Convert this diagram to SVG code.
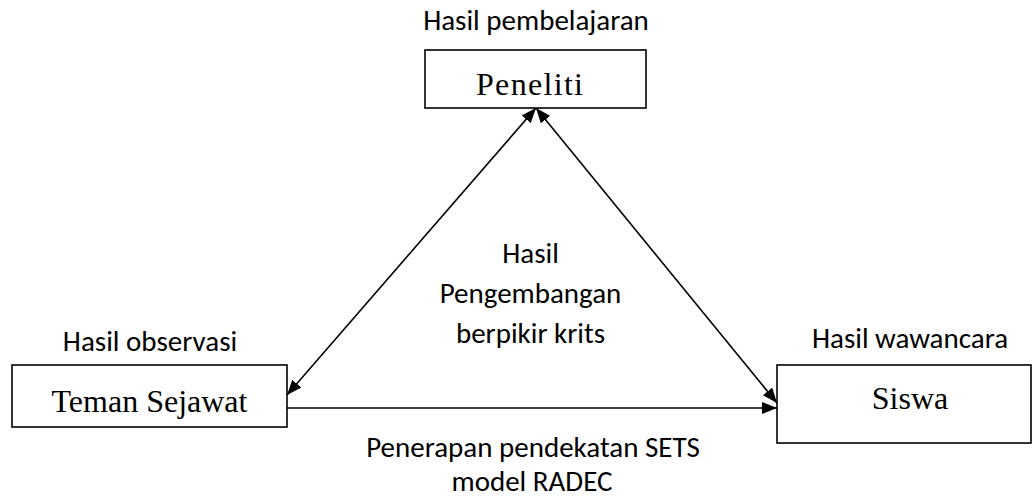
<svg xmlns="http://www.w3.org/2000/svg" width="1032" height="499" viewBox="0 0 1032 499">
<style>
.box{fill:#fff;stroke:#000;stroke-width:1.6}
.nt{font-family:"Liberation Serif","Times New Roman",serif;font-size:32px;fill:#000;text-anchor:middle}
.lb{font-family:Carlito,Calibri,"Liberation Sans",sans-serif;font-size:29px;fill:#000;text-anchor:middle}
.ln{stroke:#000;stroke-width:1.6;fill:none}
</style>
<defs>
<marker id="ah" markerUnits="userSpaceOnUse" markerWidth="16" markerHeight="12" viewBox="0 0 16 12" refX="15" refY="6" orient="auto-start-reverse">
<path d="M0,0 L15,6 L0,12 z" fill="#000"/>
</marker>
</defs>
<rect width="1032" height="499" fill="#fff"/>
<g id="connectors">
<line class="ln" x1="536" y1="108" x2="287" y2="395" marker-start="url(#ah)" marker-end="url(#ah)"/>
<line class="ln" x1="536" y1="108" x2="777" y2="403" marker-start="url(#ah)" marker-end="url(#ah)"/>
<line class="ln" x1="287" y1="408" x2="777" y2="408" marker-end="url(#ah)"/>
</g>
<g id="peneliti">
<rect class="box" x="425" y="50" width="221" height="58"/>
<text class="nt" x="476" y="95" style="text-anchor:start" textLength="107" lengthAdjust="spacing">Peneliti</text>
<text class="lb" x="536" y="30">Hasil pembelajaran</text>
</g>
<g id="teman">
<rect class="box" x="12" y="365" width="275" height="62"/>
<text class="nt" x="149.5" y="412">Teman Sejawat</text>
<text class="lb" x="150" y="351">Hasil observasi</text>
</g>
<g id="siswa">
<rect class="box" x="777" y="365" width="254" height="78"/>
<text class="nt" x="910" y="409">Siswa</text>
<text class="lb" x="910" y="348">Hasil wawancara</text>
</g>
<g id="center-label">
<text class="lb" x="530.5" y="263">Hasil</text>
<text class="lb" x="530.5" y="303">Pengembangan</text>
<text class="lb" x="530.5" y="343">berpikir krits</text>
</g>
<g id="bottom-label">
<text class="lb" x="533" y="457">Penerapan pendekatan SETS</text>
<text class="lb" x="532" y="491">model RADEC</text>
</g>
</svg>
